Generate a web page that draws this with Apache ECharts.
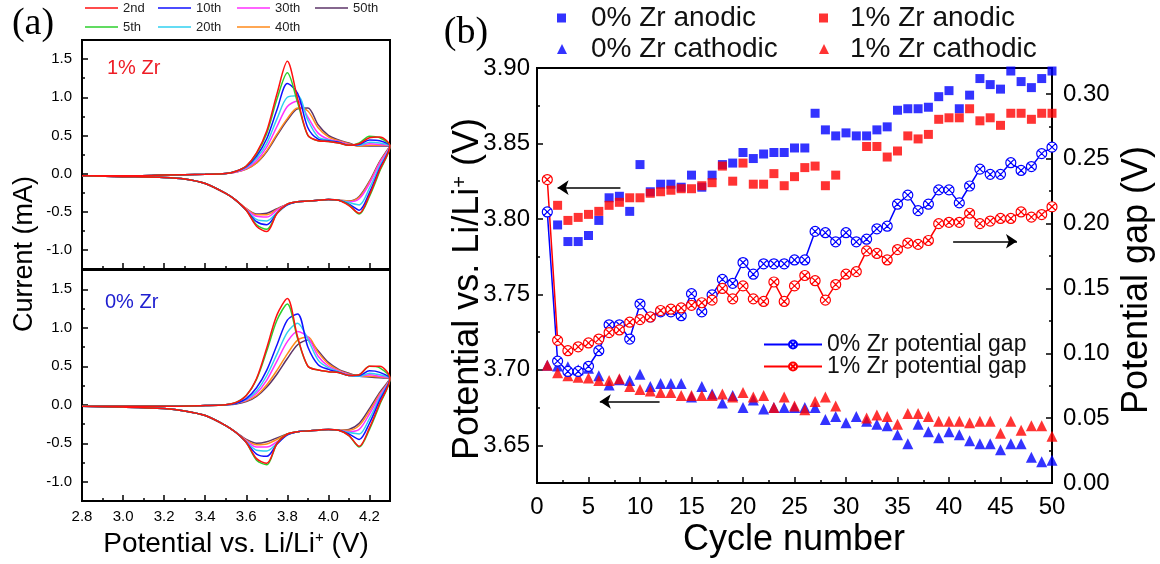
<!DOCTYPE html>
<html><head><meta charset="utf-8">
<script src="https://cdn.jsdelivr.net/npm/echarts@6/dist/echarts.min.js"></script>
<style>html,body{margin:0;padding:0;background:#fff}#c{width:1160px;height:564px}</style>
</head><body><div id="c"></div>
<script>
// ---------- Panel (a): cyclic voltammograms ----------
const CYCLE_NAMES = ['2nd','5th','10th','20th','30th','40th','50th'];
const POT_ANODIC   = [2.80,3.00,3.20,3.40,3.50,3.55,3.60,3.65,3.70,3.75,3.80,3.85,3.90,3.95,4.00,4.05,4.10,4.15,4.20,4.25,4.30];
const POT_CATHODIC = [4.25,4.20,4.15,4.10,4.05,4.00,3.95,3.90,3.85,3.80,3.75,3.70,3.65,3.60,3.55,3.50,3.40,3.30,3.20,3.00,2.80];
const A_XTICKS = [2.8,3.0,3.2,3.4,3.6,3.8,4.0,4.2];
const A_YTICKS = [-1.0,-0.5,0.0,0.5,1.0,1.5];

// 1% Zr (upper plot) current, mA
const ZR1_ANODIC = [
  [-0.03,-0.03,-0.02,-0.01,0.00,0.03,0.10,0.27,0.56,1.05,1.47,0.98,0.50,0.43,0.42,0.40,0.37,0.39,0.47,0.48,0.36],
  [-0.03,-0.03,-0.02,-0.01,0.00,0.03,0.10,0.26,0.53,0.98,1.32,0.93,0.50,0.43,0.42,0.40,0.37,0.40,0.49,0.47,0.36],
  [-0.03,-0.03,-0.02,-0.01,0.00,0.03,0.09,0.23,0.46,0.84,1.18,1.05,0.60,0.45,0.43,0.41,0.37,0.38,0.44,0.43,0.36],
  [-0.03,-0.03,-0.02,-0.01,0.00,0.03,0.08,0.20,0.40,0.72,1.00,1.02,0.70,0.48,0.44,0.41,0.37,0.37,0.41,0.40,0.36],
  [-0.03,-0.03,-0.02,-0.01,0.00,0.02,0.07,0.17,0.35,0.62,0.88,0.95,0.74,0.53,0.45,0.42,0.38,0.37,0.39,0.38,0.36],
  [-0.03,-0.03,-0.02,-0.01,0.00,0.02,0.06,0.14,0.30,0.52,0.72,0.86,0.82,0.60,0.48,0.43,0.39,0.36,0.37,0.37,0.36],
  [-0.03,-0.03,-0.02,-0.01,0.00,0.02,0.06,0.14,0.29,0.50,0.70,0.85,0.86,0.64,0.50,0.44,0.40,0.36,0.36,0.36,0.36]
];
const ZR1_CATHODIC = [
  [0.05,-0.28,-0.52,-0.42,-0.35,-0.34,-0.35,-0.36,-0.37,-0.40,-0.52,-0.76,-0.69,-0.48,-0.35,-0.26,-0.13,-0.07,-0.05,-0.04,-0.03],
  [0.03,-0.30,-0.53,-0.41,-0.35,-0.34,-0.35,-0.36,-0.37,-0.40,-0.52,-0.73,-0.67,-0.48,-0.35,-0.26,-0.13,-0.07,-0.05,-0.04,-0.03],
  [0.07,-0.25,-0.48,-0.40,-0.35,-0.34,-0.35,-0.36,-0.37,-0.41,-0.52,-0.67,-0.63,-0.48,-0.35,-0.26,-0.13,-0.07,-0.05,-0.04,-0.03],
  [0.10,-0.19,-0.41,-0.38,-0.35,-0.34,-0.35,-0.36,-0.37,-0.41,-0.51,-0.62,-0.60,-0.48,-0.35,-0.26,-0.13,-0.07,-0.05,-0.04,-0.03],
  [0.14,-0.13,-0.33,-0.37,-0.35,-0.34,-0.35,-0.36,-0.37,-0.40,-0.48,-0.57,-0.56,-0.47,-0.35,-0.26,-0.13,-0.07,-0.05,-0.04,-0.03],
  [0.15,-0.11,-0.31,-0.36,-0.35,-0.34,-0.35,-0.36,-0.37,-0.40,-0.47,-0.54,-0.54,-0.46,-0.35,-0.26,-0.13,-0.07,-0.05,-0.04,-0.03],
  [0.16,-0.10,-0.30,-0.36,-0.35,-0.34,-0.35,-0.36,-0.37,-0.40,-0.46,-0.52,-0.53,-0.46,-0.35,-0.26,-0.13,-0.07,-0.05,-0.04,-0.03]
];
// 0% Zr (lower plot) current, mA
const ZR0_ANODIC = [
  [-0.02,-0.02,-0.02,-0.01,0.00,0.03,0.12,0.34,0.74,1.17,1.38,0.88,0.50,0.45,0.43,0.42,0.38,0.39,0.50,0.50,0.34],
  [-0.02,-0.02,-0.02,-0.01,0.00,0.03,0.12,0.33,0.70,1.10,1.31,0.86,0.50,0.45,0.43,0.42,0.38,0.39,0.50,0.48,0.34],
  [-0.02,-0.02,-0.02,-0.01,0.00,0.02,0.08,0.22,0.45,0.78,1.10,1.18,0.75,0.52,0.46,0.42,0.38,0.38,0.44,0.42,0.34],
  [-0.02,-0.02,-0.02,-0.01,0.00,0.02,0.07,0.18,0.38,0.66,0.94,1.06,0.85,0.58,0.48,0.43,0.38,0.37,0.41,0.39,0.34],
  [-0.02,-0.02,-0.02,-0.01,0.00,0.02,0.06,0.15,0.32,0.57,0.82,0.95,0.88,0.63,0.50,0.44,0.39,0.37,0.39,0.37,0.34],
  [-0.02,-0.02,-0.02,-0.01,0.00,0.02,0.05,0.12,0.26,0.45,0.66,0.84,0.88,0.68,0.53,0.45,0.40,0.37,0.37,0.36,0.34],
  [-0.02,-0.02,-0.02,-0.01,0.00,0.01,0.04,0.11,0.23,0.40,0.60,0.78,0.84,0.70,0.55,0.46,0.41,0.37,0.36,0.35,0.34]
];
const ZR0_CATHODIC = [
  [0.02,-0.30,-0.54,-0.40,-0.33,-0.32,-0.33,-0.34,-0.35,-0.38,-0.50,-0.76,-0.70,-0.49,-0.36,-0.27,-0.14,-0.08,-0.05,-0.03,-0.02],
  [0.00,-0.32,-0.55,-0.40,-0.33,-0.32,-0.33,-0.34,-0.35,-0.38,-0.50,-0.78,-0.72,-0.49,-0.36,-0.27,-0.14,-0.08,-0.05,-0.03,-0.02],
  [0.06,-0.24,-0.45,-0.38,-0.33,-0.32,-0.33,-0.34,-0.35,-0.39,-0.51,-0.67,-0.64,-0.49,-0.36,-0.27,-0.14,-0.08,-0.05,-0.03,-0.02],
  [0.09,-0.18,-0.38,-0.36,-0.33,-0.32,-0.33,-0.34,-0.35,-0.39,-0.50,-0.60,-0.59,-0.48,-0.36,-0.27,-0.14,-0.08,-0.05,-0.03,-0.02],
  [0.12,-0.12,-0.32,-0.35,-0.33,-0.32,-0.33,-0.34,-0.35,-0.39,-0.48,-0.55,-0.55,-0.47,-0.36,-0.27,-0.14,-0.08,-0.05,-0.03,-0.02],
  [0.14,-0.08,-0.27,-0.33,-0.33,-0.32,-0.33,-0.34,-0.35,-0.38,-0.45,-0.51,-0.52,-0.46,-0.36,-0.27,-0.14,-0.08,-0.05,-0.03,-0.02],
  [0.16,-0.05,-0.24,-0.32,-0.33,-0.32,-0.33,-0.34,-0.35,-0.38,-0.43,-0.48,-0.50,-0.45,-0.36,-0.27,-0.14,-0.08,-0.05,-0.03,-0.02]
];

// ---------- Panel (b): peak potentials vs cycle ----------
const CYCLES = [1,2,3,4,5,6,7,8,9,10,11,12,13,14,15,16,17,18,19,20,21,22,23,24,25,26,27,28,29,30,31,32,33,34,35,36,37,38,39,40,41,42,43,44,45,46,47,48,49,50];
const ANODIC_0 = [null,3.796,3.785,3.785,3.789,3.799,3.814,3.815,3.805,3.836,3.818,3.823,3.823,3.821,3.829,3.821,3.829,3.836,3.837,3.844,3.840,3.843,3.844,3.844,3.847,3.847,3.870,3.859,3.855,3.857,3.855,3.855,3.859,3.861,3.872,3.873,3.873,3.874,3.881,3.885,3.873,3.882,3.893,3.889,3.886,3.898,3.891,3.887,3.893,3.898];
const ANODIC_1 = [null,3.809,3.799,3.801,3.803,3.805,3.809,3.811,3.814,3.814,3.817,3.818,3.819,3.820,3.820,3.822,3.824,3.835,3.825,3.837,3.823,3.823,3.830,3.822,3.828,3.834,3.835,3.822,3.829,null,null,3.848,3.848,3.841,3.845,3.855,3.853,3.856,3.866,3.867,3.867,3.873,3.865,3.867,3.862,3.870,3.870,3.866,3.870,3.870];
const CATHODIC_0 = [3.703,3.7026,3.702,3.700,3.701,3.696,3.690,3.6935,3.693,3.697,3.689,3.691,3.691,3.691,3.682,3.689,3.684,3.678,3.683,3.675,3.680,3.674,3.675,3.675,3.675,3.675,3.675,3.667,3.669,3.665,3.669,3.666,3.664,3.663,3.657,3.651,3.664,3.659,3.655,3.659,3.657,3.653,3.651,3.651,3.647,3.651,3.651,3.642,3.639,3.640];
const CATHODIC_1 = [3.703,3.698,3.696,3.695,3.6945,3.693,3.693,3.694,3.689,3.687,3.686,3.685,3.685,3.683,3.683,3.683,3.683,3.684,3.682,3.685,3.682,3.683,3.675,3.682,3.676,3.6735,3.679,3.682,3.676,null,null,3.668,3.670,3.669,3.664,3.671,3.671,3.669,3.666,3.666,3.666,3.665,3.666,3.666,3.658,3.666,3.660,3.663,3.663,3.656];
const GAP_0 = [0.209,0.094,0.086,0.086,0.090,0.102,0.122,0.122,0.111,0.138,0.128,0.132,0.132,0.129,0.146,0.132,0.145,0.157,0.154,0.170,0.161,0.169,0.169,0.169,0.172,0.172,0.194,0.193,0.186,0.193,0.186,0.188,0.196,0.198,0.215,0.222,0.210,0.215,0.226,0.226,0.216,0.229,0.242,0.238,0.238,0.247,0.241,0.244,0.254,0.259];
const GAP_1 = [0.234,0.110,0.102,0.105,0.108,0.111,0.116,0.118,0.124,0.126,0.128,0.133,0.134,0.135,0.137,0.139,0.141,0.150,0.142,0.152,0.142,0.140,0.155,0.140,0.152,0.160,0.156,0.141,0.153,0.161,0.163,0.179,0.177,0.172,0.180,0.185,0.184,0.187,0.200,0.201,0.201,0.208,0.200,0.202,0.204,0.204,0.209,0.205,0.207,0.213];
const B_LEFT_TICKS = [3.65,3.70,3.75,3.80,3.85,3.90];
const B_LEFT_MINOR = [3.675,3.725,3.775,3.825,3.875];
const B_RIGHT_TICKS = [0.00,0.05,0.10,0.15,0.20,0.25,0.30];
const B_RIGHT_MINOR = [0.025,0.075,0.125,0.175,0.225,0.275];
// arrows (annotation, in data units): [fromCycle, toCycle, level]
const ARROW_LEFT_UP = [8.1, 2.0, 3.8207];
const ARROW_LEFT_LOW = [11.9, 6.1, 3.679];
const ARROW_RIGHT = [40.4, 46.6, 0.1864];

// ---------- styles ----------
const CYCLE_COLORS = ['#ff1010','#2ccf2c','#1010ff','#30d0f0','#ff30ff','#ff8a1a','#5c3468'];
const FONT = "'Liberation Sans', Arial, sans-serif";
const BLUE = '#0000ff', RED = '#ff0000';
const XO = 'path://M1,10A9,9,0,1,1,19,10A9,9,0,1,1,1,10ZM3.64,3.64L16.36,16.36M16.36,3.64L3.64,16.36';

function minorOf(arr){ const r=[]; for(let i=0;i<arr.length-1;i++) r.push(+((arr[i]+arr[i+1])/2).toFixed(4)); return r; }
const A_XMINOR = minorOf(A_XTICKS);
const A_YMINOR = [-0.75,-0.25,0.25,0.75,1.25];

function loop(an, ca){
  return POT_ANODIC.map((x,i)=>[x,an[i]]).concat(POT_CATHODIC.map((x,i)=>[x,ca[i]]));
}
function pts(ys){ const r=[]; CYCLES.forEach((c,i)=>{ if(ys[i]!==null) r.push([c,ys[i]]); }); return r; }

const tickStyle = {color:'#000', width:1.5};
function majorAxis(o){
  return Object.assign({
    type:'value', splitLine:{show:false},
    axisLine:{show:true, onZero:false, lineStyle:{color:'#000', width:2}},
    axisTick:{show:true, inside:true, length:6, lineStyle:tickStyle},
    axisLabel:{show:true, color:'#000', fontFamily:FONT}
  }, o);
}
function minorAxis(o, vals){
  return Object.assign({
    type:'value', splitLine:{show:false},
    axisLine:{show:false, onZero:false},
    axisTick:{show:true, inside:true, length:3, lineStyle:tickStyle, customValues: vals},
    axisLabel:{show:false}
  }, o);
}

const xAxis = [
  majorAxis({gridIndex:0, min:2.8, max:4.3, position:'bottom',
    axisTick:{show:true, inside:true, length:6, lineStyle:tickStyle, customValues:A_XTICKS},
    axisLabel:{show:false}}),
  minorAxis({gridIndex:0, min:2.8, max:4.3, position:'bottom'}, A_XMINOR),
  majorAxis({gridIndex:1, min:2.8, max:4.3, position:'bottom',
    axisTick:{show:true, inside:true, length:6, lineStyle:tickStyle, customValues:A_XTICKS},
    axisLabel:{show:true, color:'#000', fontFamily:FONT, fontSize:15, margin:8, customValues:A_XTICKS, formatter:v=>v.toFixed(1)}}),
  minorAxis({gridIndex:1, min:2.8, max:4.3, position:'bottom'}, A_XMINOR),
  majorAxis({gridIndex:2, min:0, max:50, interval:5, position:'bottom',
    minorTick:{show:true, splitNumber:2, length:3, lineStyle:tickStyle},
    axisLabel:{show:true, color:'#000', fontFamily:FONT, fontSize:24, margin:12}})
];
function aY(grid){
  return majorAxis({gridIndex:grid, min:-1.25, max:1.75, position:'left',
    axisTick:{show:true, inside:true, length:6, lineStyle:tickStyle, customValues:A_YTICKS},
    axisLabel:{show:true, color:'#000', fontFamily:FONT, fontSize:15, margin:10, customValues:A_YTICKS, formatter:v=>v.toFixed(1)}});
}
const yAxis = [
  aY(0),
  minorAxis({gridIndex:0, min:-1.25, max:1.75, position:'left'}, A_YMINOR),
  aY(1),
  minorAxis({gridIndex:1, min:-1.25, max:1.75, position:'left'}, A_YMINOR),
  majorAxis({gridIndex:2, min:3.625, max:3.9, position:'left',
    axisTick:{show:true, inside:true, length:6, lineStyle:tickStyle, customValues:B_LEFT_TICKS},
    axisLabel:{show:true, color:'#000', fontFamily:FONT, fontSize:24, margin:7, customValues:B_LEFT_TICKS, formatter:v=>v.toFixed(2)}}),
  minorAxis({gridIndex:2, min:3.625, max:3.9, position:'left'}, B_LEFT_MINOR),
  majorAxis({gridIndex:2, min:0, max:0.32, position:'right',
    axisTick:{show:true, inside:true, length:6, lineStyle:tickStyle, customValues:B_RIGHT_TICKS},
    axisLabel:{show:true, color:'#000', fontFamily:FONT, fontSize:24, margin:11, customValues:B_RIGHT_TICKS, formatter:v=>v.toFixed(2)}}),
  minorAxis({gridIndex:2, min:0, max:0.32, position:'right'}, B_RIGHT_MINOR)
];

const series = [];
for (let k = CYCLE_NAMES.length-1; k >= 0; k--) {
  const base = {type:'line', name:CYCLE_NAMES[k], symbol:'none', smooth:0.3, silent:true,
    lineStyle:{color:CYCLE_COLORS[k], width:1.5}, itemStyle:{color:CYCLE_COLORS[k]}, emphasis:{disabled:true}};
  series.push(Object.assign({}, base, {xAxisIndex:0, yAxisIndex:0, data:loop(ZR1_ANODIC[k], ZR1_CATHODIC[k])}));
  series.push(Object.assign({}, base, {xAxisIndex:2, yAxisIndex:2, data:loop(ZR0_ANODIC[k], ZR0_CATHODIC[k])}));
}
function arrow(a){ return [{coord:[a[0],a[2]]},{coord:[a[1],a[2]]}]; }
const arrowML = (list)=>({silent:true, symbol:['none','arrow'], symbolSize:11, label:{show:false},
  lineStyle:{color:'#000', width:1.5, type:'solid'}, emphasis:{disabled:true}, data:list.map(arrow)});

series.push({type:'line', name:'0% Zr potential gap', xAxisIndex:4, yAxisIndex:6, data:pts(GAP_0),
  symbol:XO, symbolSize:10, lineStyle:{color:BLUE, width:1.5}, itemStyle:{color:'#fff', borderColor:BLUE, borderWidth:1.2},
  emphasis:{disabled:true}, silent:true, markLine:arrowML([ARROW_RIGHT])});
series.push({type:'line', name:'1% Zr potential gap', xAxisIndex:4, yAxisIndex:6, data:pts(GAP_1),
  symbol:XO, symbolSize:10, lineStyle:{color:RED, width:1.5}, itemStyle:{color:'#fff', borderColor:RED, borderWidth:1.2},
  emphasis:{disabled:true}, silent:true});
series.push({type:'scatter', name:'0% Zr anodic', xAxisIndex:4, yAxisIndex:4, data:pts(ANODIC_0),
  symbol:'rect', symbolSize:9, itemStyle:{color:BLUE}, silent:true, markLine:arrowML([ARROW_LEFT_UP, ARROW_LEFT_LOW])});
series.push({type:'scatter', name:'1% Zr anodic', xAxisIndex:4, yAxisIndex:4, data:pts(ANODIC_1),
  symbol:'rect', symbolSize:9, itemStyle:{color:RED}, silent:true});
series.push({type:'scatter', name:'0% Zr cathodic', xAxisIndex:4, yAxisIndex:4, data:pts(CATHODIC_0),
  symbol:'triangle', symbolSize:11, itemStyle:{color:BLUE}, silent:true});
series.push({type:'scatter', name:'1% Zr cathodic', xAxisIndex:4, yAxisIndex:4, data:pts(CATHODIC_1),
  symbol:'triangle', symbolSize:11, itemStyle:{color:RED}, silent:true});

// legends
const legend = [];
const A_LEG_POS = [[85,8],[85,27],[158,8],[158,27],[237,8],[237,27],[315,8]];
CYCLE_NAMES.forEach((n,k)=>{
  legend.push({data:[n], left:A_LEG_POS[k][0], top:A_LEG_POS[k][1]-7, padding:0, icon:'rect', itemWidth:33, itemHeight:1.5,
    selectedMode:false, textStyle:{fontSize:13, fontFamily:FONT, color:'#222', lineHeight:14}});
});
// [name, symbol, left, centerY, extra text padding]
const B_LEG = [['0% Zr anodic','rect',557,18,20],['1% Zr anodic','rect',819,18,17],['0% Zr cathodic','triangle',557,49,19],['1% Zr cathodic','triangle',819,49,16]];
B_LEG.forEach(l=>{
  const s = l[1]==='rect' ? 9 : 10;
  legend.push({data:[l[0]], icon:l[1], left:l[2], top:l[3]-15, padding:0, itemWidth:s, itemHeight:s,
    selectedMode:false, textStyle:{fontSize:28, fontFamily:FONT, color:'#111', lineHeight:30, padding:[0,0,0,l[4]]}});
});
[['0% Zr potential gap',763,345],['1% Zr potential gap',763,367]].forEach(l=>{
  legend.push({data:[l[0]], left:l[1], top:l[2]-12, padding:0, itemWidth:58, itemHeight:10,
    selectedMode:false, textStyle:{fontSize:23, fontFamily:FONT, color:'#111'}});
});

function txt(x,y,text,size,opt){
  return Object.assign({type:'text', x:x, y:y, silent:true,
    style:Object.assign({text:text, fontSize:size, fontFamily:FONT, fill:'#000', align:'center', verticalAlign:'middle',
      rich:{sup:{fontSize:Math.round(size*0.55), fontFamily:FONT, verticalAlign:'top', fill:'#000'}}}, (opt||{}).style||{})},
    (opt||{}).el||{});
}
const graphic = [
  txt(33,24,'(a)',38,{style:{fontFamily:"'Liberation Serif', 'Times New Roman', serif"}}),
  txt(466,33,'(b)',38,{style:{fontFamily:"'Liberation Serif', 'Times New Roman', serif"}}),
  txt(107,68,'1% Zr',20,{style:{align:'left', fill:'#ee1c25'}}),
  txt(105,302,'0% Zr',20,{style:{align:'left', fill:'#2020d0'}}),
  txt(25,254,'Current (mA)',27,{el:{rotation:Math.PI/2}}),
  txt(236,544,'Potential vs. Li/Li{sup|+} (V)',28),
  txt(794,540,'Cycle number',36),
  txt(468,289,'Potential vs. Li/Li{sup|+} (V)',36,{el:{rotation:Math.PI/2}}),
  txt(1137,280,'Potential gap (V)',36,{el:{rotation:Math.PI/2}})
];

const option = {
  animation:false,
  backgroundColor:'#ffffff',
  textStyle:{fontFamily:FONT},
  grid:[
    {left:82, top:40, width:308, height:229, show:true, borderColor:'#000', borderWidth:2, backgroundColor:'transparent'},
    {left:82, top:270, width:308, height:231, show:true, borderColor:'#000', borderWidth:2, backgroundColor:'transparent'},
    {left:537, top:68, width:515, height:415, show:true, borderColor:'#000', borderWidth:2, backgroundColor:'transparent'}
  ],
  xAxis, yAxis, series, legend, graphic
};
const chart = echarts.init(document.getElementById('c'), null, {renderer:'canvas'});
chart.setOption(option);
</script></body></html>
